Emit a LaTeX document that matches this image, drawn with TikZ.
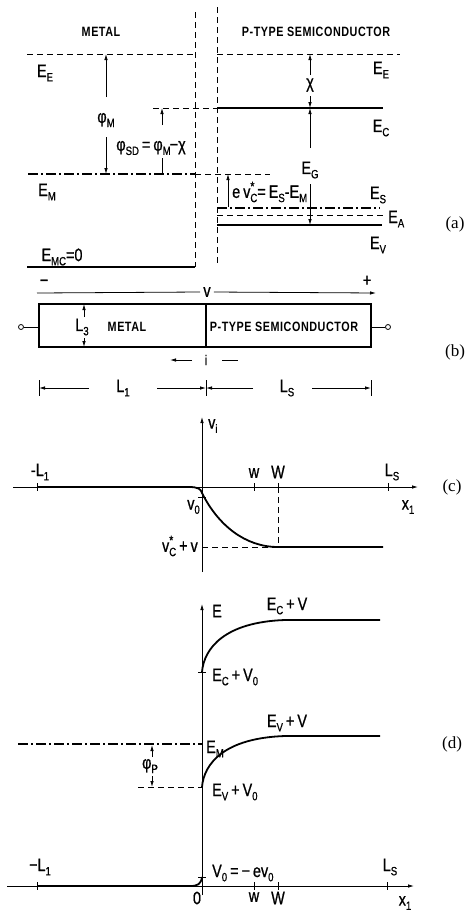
\documentclass[tikz,border=0pt]{standalone}
\usepackage{fontspec}
\setmainfont{Liberation Sans}[FakeStretch=0.8, FakeBold=0.8]
\newfontfamily\ttlfont{Liberation Sans Bold}[FakeStretch=0.8, LetterSpace=4]
\newfontfamily\capfont{Liberation Serif}
\usetikzlibrary{arrows.meta}
\newcommand\lblsize{\fontsize{18}{20}\selectfont}
\newcommand\ttl{\ttlfont\fontsize{13.5}{15}\selectfont}
\newcommand\lo[1]{\raisebox{-0.45ex}{\fontsize{12}{12}\selectfont #1}}
\newcommand\hup[1]{\raisebox{0.75ex}{\fontsize{13}{13}\selectfont #1}}
\newcommand\vcs{v\rlap{\hup{*}}\lo{C}}
\tikzset{
  thin line/.style={line width=0.8pt},
  dsh/.style={line width=0.8pt, dash pattern=on 6pt off 4pt},
  dd/.style={line width=1.1pt, dash pattern=on 10pt off 3pt on 2pt off 3pt},
  thk/.style={line width=1.8pt},
  arr/.style={line width=0.8pt, -{Latex[length=6pt,width=3.5pt]}},
  panel/.style={font=\capfont\fontsize{17}{19}\selectfont},
}
\begin{document}
\begin{tikzpicture}[x=1pt,y=-1pt, every node/.style={inner sep=0pt, font=\lblsize}]
\useasboundingbox (0,0) rectangle (471,911);
% ================= (a) =================
\node (tM) at (101,32) {\ttl METAL};
\node (tS) at (316,32) {\ttl P-TYPE SEMICONDUCTOR};
\draw[dsh] (195,12) -- (195,267);
\draw[dsh] (217,7) -- (217,263);
% levels
\draw[dsh] (27,54) -- (195,54);
\draw[dsh] (217,54) -- (400,54);
\draw[dsh] (153,108) -- (217,108);
\draw[thk] (217,108) -- (383,108);
\draw[dd] (28,174) -- (195,174);
\draw[dsh] (195,174) -- (270,174);
\draw[dd] (217,208) -- (380,208);
\draw[dsh] (217,215) -- (386,215);
\draw[thk] (217,225) -- (382,225);
\draw[thk] (27,267) -- (195,267);
% level labels
\node (EEl) at (45,73) {E\lo{E}};
\node (EEr) at (381,70) {E\lo{E}};
\node (EC) at (381,128) {E\lo{C}};
\node (EM) at (47,192) {E\lo{M}};
\node (EMC) at (62,257) {E\lo{MC}=0};
\node (ES) at (378,195) {E\lo{S}};
\node[anchor=west] (EA) at (388,219) {E\lo{A}};
\node (EV) at (378,245) {E\lo{V}};
% phi_M
\coordinate (pM1) at (106,97); \coordinate (pM0) at (106,54);
\draw[arr] (pM1) -- (pM0);
\node (phiM) at (106,120) {φ\lo{M}};
\coordinate (pM2) at (106,137); \coordinate (pM3) at (106,174);
\draw[arr] (pM2) -- (pM3);
% phi_SD
\coordinate (pS1) at (162,125); \coordinate (pS0) at (162,108);
\draw[arr] (pS1) -- (pS0);
\node (phiSD) at (151,148) {φ\lo{SD}\,=\,φ\lo{M}\kern-1pt−χ};
\coordinate (pS2) at (162,158); \coordinate (pS3) at (162,174);
\draw[thin line] (pS2) -- (pS3);
% chi
\coordinate (c1) at (310,75); \coordinate (c0) at (310,54);
\draw[arr] (c1) -- (c0);
\node (chi) at (310,85) {χ};
\coordinate (c2) at (310,96); \coordinate (c3) at (310,108);
\draw[arr] (c2) -- (c3);
% E_G
\coordinate (g1) at (310,148); \coordinate (g0) at (310,108);
\draw[arr] (g1) -- (g0);
\node (EG) at (310,170) {E\lo{G}};
\coordinate (g2) at (310,184); \coordinate (g3) at (310,225);
\draw[arr] (g2) -- (g3);
% e v_C^*
\coordinate (e1) at (228,207); \coordinate (e0) at (228,174);
\draw[arr] (e1) -- (e0);
\node[anchor=west] (evc) at (232,192) {e\,\vcs=\,E\lo{S}-E\lo{M}};
\node[panel] (pa) at (455,224) {(a)};
% ================= (b) =================
\node (minus) at (44,283) {−};
\node (plus) at (367,281) {+};
\node[fill=white, inner xsep=3pt] (vlab) at (207,292) {v};
\coordinate (vs) at (37,293); \coordinate (ve) at (376,293);
\draw[thin line] (vs) -- (vlab.west);
\draw[arr] (vlab.east) -- (ve);
\draw[line width=1.2pt] (39,304) rectangle (371,347);
\draw[line width=1.2pt] (206,304) -- (206,347);
\node[circle, draw, line width=0.8pt, minimum size=5pt] (tl) at (21,327) {};
\node[circle, draw, line width=0.8pt, minimum size=5pt] (tr) at (388,327) {};
\coordinate (bl) at (39,327); \coordinate (br) at (371,327);
\draw[thin line] (tl) -- (bl);
\draw[thin line] (br) -- (tr);
\coordinate (l3a) at (84,317); \coordinate (l3b) at (84,304);
\coordinate (l3c) at (84,338); \coordinate (l3d) at (84,347);
\draw[arr] (l3a) -- (l3b);
\draw[arr] (l3c) -- (l3d);
\node (L3) at (82,327) {L\lo{3}};
\node (bM) at (127,327) {\ttl METAL};
\node (bS) at (284,327) {\ttl P-TYPE SEMICONDUCTOR};
\coordinate (i1) at (192,360); \coordinate (i0) at (170,360);
\draw[arr] (i1) -- (i0);
\node (icur) at (206,360) {\fontsize{14}{14}\selectfont i};
\coordinate (i2) at (222,360); \coordinate (i3) at (238,360);
\draw[thin line] (i2) -- (i3);
\draw[thin line] (39,380) -- (39,396);
\draw[thin line] (206,380) -- (206,396);
\draw[thin line] (371,380) -- (371,396);
\node (L1) at (123,388) {L\lo{1}};
\node (LS) at (287,388) {L\lo{S}};
\coordinate (d0) at (39,388); \coordinate (d1) at (89,388);
\coordinate (d2) at (157,388); \coordinate (d3) at (206,388);
\coordinate (d4) at (253,388); \coordinate (d5) at (312,388);
\coordinate (d6) at (371,388);
\draw[arr] (d1) -- (d0);
\draw[arr] (d2) -- (d3);
\draw[arr] (d4) -- (d3);
\draw[arr] (d5) -- (d6);
\node[panel] (pb) at (455,352) {(b)};
% ================= (c) =================
\coordinate (cx0) at (13,487); \coordinate (cx1) at (418,487);
\draw[arr] (cx0) -- (cx1);
\coordinate (cy0) at (202,572); \coordinate (cy1) at (202,417);
\draw[arr] (cy0) -- (cy1);
\node[anchor=west] (vi) at (208,426) {v\lo{i}};
\foreach \xx in {37,254,278,388} \draw[thin line] (\xx,483) -- (\xx,491);
\node (cL1) at (40,472) {-L\lo{1}};
\node (cw) at (254,473) {w};
\node (cW) at (278,472) {W};
\node (cLS) at (392,472) {L\lo{S}};
\node (cx) at (408,507) {x\lo{1}};
\draw[thk] (37,487) -- (189,487) .. controls (198,487) and (201,489) .. (202,493)
  .. controls (218,525) and (245,547) .. (278,547) -- (383,547);
\draw[thin line] (198,497) -- (206,497);
\node[anchor=east] (v0) at (200,507) {v\lo{0}};
\node[anchor=east] (vcv) at (198,546) {\vcs\,+\,v};
\draw[dsh] (202,547) -- (278,547);
\draw[dsh] (278,487) -- (278,547);
\node[panel] (pc) at (452,487) {(c)};
% ================= (d) =================
\coordinate (dy0) at (202,895); \coordinate (dy1) at (202,604);
\draw[arr] (dy0) -- (dy1);
\node[anchor=west] (dE) at (212,611) {E};
\draw[thk] (202,672) .. controls (204,648) and (225,622) .. (285,620) -- (380,620);
\draw[thin line] (198,672) -- (206,672);
\node[anchor=west] (ECV0) at (212,677) {E\lo{C}\,+\,V\lo{0}};
\node (ECV) at (287,606) {E\lo{C}\,+\,V};
\draw[thk] (202,787) .. controls (204,763) and (225,738) .. (285,736) -- (380,736);
\node (EVV) at (287,723) {E\lo{V}\,+\,V};
\draw[dd] (18,744) -- (202,744);
\node[anchor=west] (dEM) at (206,749) {E\lo{M}};
\coordinate (p1) at (152,757); \coordinate (p0) at (152,745);
\draw[arr] (p1) -- (p0);
\node (phip) at (150,766) {φ\lo{P}};
\coordinate (p2) at (152,776); \coordinate (p3) at (152,787);
\draw[arr] (p2) -- (p3);
\draw[dsh] (138,787) -- (202,787);
\node[anchor=west] (EVV0) at (212,792) {E\lo{V}\,+\,V\lo{0}};
\coordinate (dx0) at (7,886); \coordinate (dx1) at (414,886);
\draw[arr] (dx0) -- (dx1);
\foreach \xx in {37,254,278,387} \draw[thin line] (\xx,882) -- (\xx,890);
\draw[thk] (37,886) -- (190,886) .. controls (198,886) and (201,884) .. (202,877);
\draw[thin line] (198,877) -- (206,877);
\node[anchor=west] (V0) at (212,873) {V\lo{0}\,=\,−\,ev\lo{0}};
\node (dL1) at (40,867) {−L\lo{1}};
\node (dLS) at (390,867) {L\lo{S}};
\node (d0l) at (197,898) {0};
\node (dw) at (254,897) {w};
\node (dW) at (278,898) {W};
\node (dx) at (405,903) {x\lo{1}};
\node[panel] (pd) at (452,744) {(d)};
\end{tikzpicture}
\end{document}
